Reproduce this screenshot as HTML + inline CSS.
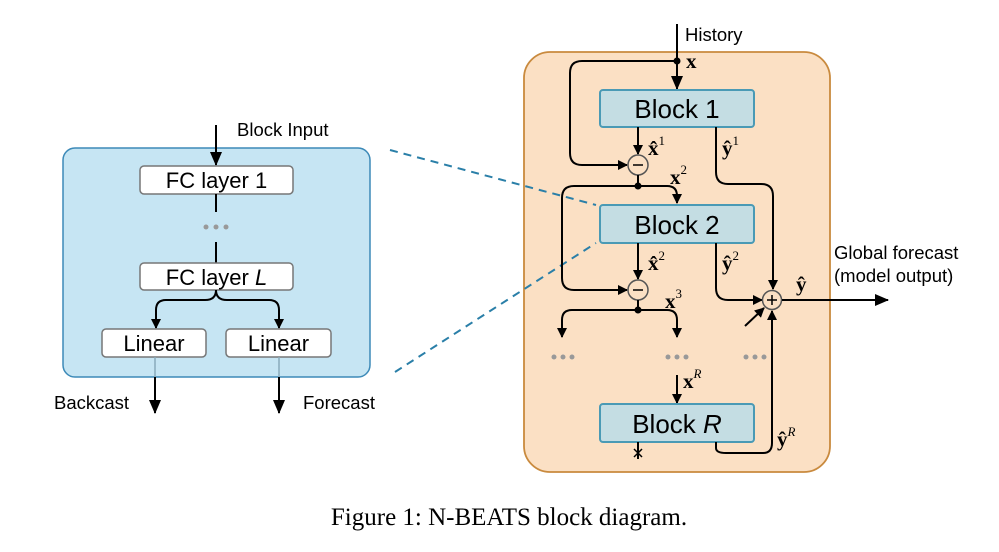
<!DOCTYPE html>
<html><head><meta charset="utf-8"><style>
html,body{margin:0;padding:0;background:#fff;}
svg{display:block;}
.s{font-family:"Liberation Sans",sans-serif;}
.m{font-family:"Liberation Serif",serif;font-weight:bold;}
</style></head><body>
<svg width="999" height="552" viewBox="0 0 999 552" xmlns="http://www.w3.org/2000/svg">
<defs>
<marker id="a" markerWidth="10" markerHeight="10" refX="9" refY="5" orient="auto" markerUnits="userSpaceOnUse">
<path d="M0,0 L10,5 L0,10 z" fill="#000"/></marker>
<marker id="b" markerWidth="14" markerHeight="12" refX="13" refY="6" orient="auto" markerUnits="userSpaceOnUse">
<path d="M0,0 L14,6 L0,12 z" fill="#000"/></marker>
</defs>
<!-- left box -->
<rect x="63" y="148" width="307" height="229" rx="12" fill="#c6e5f3" stroke="#3d8ab8" stroke-width="1.5"/>
<line x1="216" y1="125" x2="216" y2="165" stroke="#000" stroke-width="2" marker-end="url(#b)"/>
<text x="237" y="136" class="s" font-size="18.5">Block Input</text>
<rect x="140" y="166" width="153" height="28" rx="4" fill="#fff" stroke="#777" stroke-width="1.5"/>
<text x="216.5" y="188" class="s" font-size="22" text-anchor="middle">FC layer 1</text>
<line x1="216" y1="194" x2="216" y2="212" stroke="#000" stroke-width="2"/>
<circle cx="206" cy="227" r="2.5" fill="#999"/><circle cx="216" cy="227" r="2.5" fill="#999"/><circle cx="226" cy="227" r="2.5" fill="#999"/>
<line x1="216" y1="242" x2="216" y2="263" stroke="#000" stroke-width="2"/>
<rect x="140" y="263" width="153" height="27" rx="4" fill="#fff" stroke="#777" stroke-width="1.5"/>
<text x="216.5" y="285" class="s" font-size="22" text-anchor="middle">FC layer <tspan font-style="italic">L</tspan></text>
<path d="M216,290 Q216,300 205,300 L166,300 Q156,300 156,310 L156,328" fill="none" stroke="#000" stroke-width="2" marker-end="url(#a)"/>
<path d="M216,290 Q216,300 227,300 L269,300 Q279,300 279,310 L279,328" fill="none" stroke="#000" stroke-width="2" marker-end="url(#a)"/>
<rect x="102" y="329" width="104" height="28" rx="4" fill="#fff" stroke="#777" stroke-width="1.5"/>
<text x="154" y="351" class="s" font-size="22" text-anchor="middle">Linear</text>
<rect x="226" y="329" width="105" height="28" rx="4" fill="#fff" stroke="#777" stroke-width="1.5"/>
<text x="278.5" y="351" class="s" font-size="22" text-anchor="middle">Linear</text>
<line x1="155" y1="357" x2="155" y2="377" stroke="#8ab" stroke-width="1.5"/>
<line x1="279" y1="357" x2="279" y2="377" stroke="#8ab" stroke-width="1.5"/>
<line x1="155" y1="377" x2="155" y2="413" stroke="#000" stroke-width="2" marker-end="url(#b)"/>
<line x1="279" y1="377" x2="279" y2="413" stroke="#000" stroke-width="2" marker-end="url(#b)"/>
<text x="54" y="409" class="s" font-size="18.5">Backcast</text>
<text x="303" y="409" class="s" font-size="18.5">Forecast</text>
<!-- right box -->
<rect x="524" y="52" width="306" height="420" rx="26" fill="#fbe0c4" stroke="#c98a3e" stroke-width="1.8"/>
<!-- dashed -->
<line x1="390" y1="150" x2="596" y2="205" stroke="#2a7fa8" stroke-width="2" stroke-dasharray="8,6"/>
<line x1="395" y1="372" x2="596" y2="243" stroke="#2a7fa8" stroke-width="2" stroke-dasharray="8,6"/>
<text x="685" y="41" class="s" font-size="18.5">History</text>
<line x1="677" y1="24" x2="677" y2="89" stroke="#000" stroke-width="2" marker-end="url(#b)"/>
<circle cx="677" cy="61" r="3.5" fill="#000"/>
<text x="686" y="68" class="m" font-size="21">x</text>
<path d="M677,61 L582,61 Q570,61 570,73 L570,153 Q570,165 582,165 L627,165" fill="none" stroke="#000" stroke-width="2" marker-end="url(#a)"/>
<rect x="600" y="90" width="154" height="37" rx="3" fill="#c4dde3" stroke="#4a9ab5" stroke-width="2"/>
<text x="677" y="118" class="s" font-size="26" text-anchor="middle">Block 1</text>
<line x1="638" y1="127" x2="638" y2="154" stroke="#000" stroke-width="2" marker-end="url(#a)"/>
<text x="648" y="155" class="m" font-size="21">x̂<tspan font-size="13" dy="-10" font-weight="normal">1</tspan></text>
<text x="722" y="155" class="m" font-size="21">ŷ<tspan font-size="13" dy="-10" font-weight="normal">1</tspan></text>
<circle cx="638" cy="165" r="10" fill="#fbe0c4" stroke="#555" stroke-width="1.5"/>
<line x1="633" y1="165" x2="643" y2="165" stroke="#000" stroke-width="1.5"/>
<line x1="638" y1="175" x2="638" y2="186" stroke="#000" stroke-width="2"/>
<circle cx="638" cy="186" r="3.5" fill="#000"/>
<text x="670" y="184" class="m" font-size="21">x<tspan font-size="13" dy="-10" font-weight="normal">2</tspan></text>
<path d="M638,186 L667,186 Q677,186 677,196 L677,203" fill="none" stroke="#000" stroke-width="2" marker-end="url(#a)"/>
<path d="M638,186 L574,186 Q562,186 562,198 L562,278 Q562,290 574,290 L627,290" fill="none" stroke="#000" stroke-width="2" marker-end="url(#a)"/>
<path d="M716,127 L716,172 Q716,184 728,184 L761,184 Q773,184 773,196 L773,289" fill="none" stroke="#000" stroke-width="2" marker-end="url(#a)"/>
<rect x="600" y="205" width="154" height="38" rx="3" fill="#c4dde3" stroke="#4a9ab5" stroke-width="2"/>
<text x="677" y="234" class="s" font-size="26" text-anchor="middle">Block 2</text>
<line x1="638" y1="243" x2="638" y2="279" stroke="#000" stroke-width="2" marker-end="url(#a)"/>
<text x="648" y="270" class="m" font-size="21">x̂<tspan font-size="13" dy="-10" font-weight="normal">2</tspan></text>
<text x="722" y="270" class="m" font-size="21">ŷ<tspan font-size="13" dy="-10" font-weight="normal">2</tspan></text>
<path d="M716,243 L716,288 Q716,300 728,300 L762,300" fill="none" stroke="#000" stroke-width="2" marker-end="url(#a)"/>
<circle cx="638" cy="290" r="10" fill="#fbe0c4" stroke="#555" stroke-width="1.5"/>
<line x1="633" y1="290" x2="643" y2="290" stroke="#000" stroke-width="1.5"/>
<line x1="638" y1="300" x2="638" y2="310" stroke="#000" stroke-width="2"/>
<circle cx="638" cy="310" r="3.5" fill="#000"/>
<text x="665" y="308" class="m" font-size="21">x<tspan font-size="13" dy="-10" font-weight="normal">3</tspan></text>
<path d="M638,310 L572,310 Q562,310 562,320 L562,337" fill="none" stroke="#000" stroke-width="2" marker-end="url(#a)"/>
<path d="M638,310 L667,310 Q677,310 677,320 L677,337" fill="none" stroke="#000" stroke-width="2" marker-end="url(#a)"/>
<circle cx="772" cy="300" r="9.5" fill="#fbe0c4" stroke="#555" stroke-width="1.5"/>
<line x1="767" y1="300" x2="777" y2="300" stroke="#000" stroke-width="1.5"/>
<line x1="772" y1="295" x2="772" y2="305" stroke="#000" stroke-width="1.5"/>
<line x1="782" y1="300" x2="888" y2="300" stroke="#000" stroke-width="2" marker-end="url(#b)"/>
<text x="796" y="291" class="m" font-size="21">ŷ</text>
<text x="834" y="259" class="s" font-size="18.5">Global forecast</text>
<text x="834" y="282" class="s" font-size="18.5">(model output)</text>
<line x1="745" y1="326" x2="764" y2="308" stroke="#000" stroke-width="2" marker-end="url(#a)"/>
<circle cx="554" cy="357" r="2.5" fill="#999"/><circle cx="563" cy="357" r="2.5" fill="#999"/><circle cx="572" cy="357" r="2.5" fill="#999"/>
<circle cx="668" cy="357" r="2.5" fill="#999"/><circle cx="677" cy="357" r="2.5" fill="#999"/><circle cx="686" cy="357" r="2.5" fill="#999"/>
<circle cx="746" cy="357" r="2.5" fill="#999"/><circle cx="755" cy="357" r="2.5" fill="#999"/><circle cx="764" cy="357" r="2.5" fill="#999"/>
<line x1="677" y1="375" x2="677" y2="403" stroke="#000" stroke-width="2" marker-end="url(#a)"/>
<text x="683" y="388" class="m" font-size="21">x<tspan font-size="13" dy="-10" font-weight="normal" font-style="italic">R</tspan></text>
<rect x="600" y="404" width="154" height="38" rx="3" fill="#c4dde3" stroke="#4a9ab5" stroke-width="2"/>
<text x="677" y="433" class="s" font-size="26" text-anchor="middle">Block <tspan font-style="italic">R</tspan></text>
<line x1="638" y1="442" x2="638" y2="459" stroke="#000" stroke-width="2"/>
<path d="M634,449 L642,457 M642,449 L634,457" stroke="#000" stroke-width="1.5"/>
<path d="M716,442 L716,448 Q716,453 726,453 L763,453 Q772,453 772,443 L772,311" fill="none" stroke="#000" stroke-width="2" marker-end="url(#a)"/>
<text x="777" y="446" class="m" font-size="21">ŷ<tspan font-size="13" dy="-10" font-weight="normal" font-style="italic">R</tspan></text>
<text x="509" y="525" font-family="Liberation Serif,serif" font-size="25" text-anchor="middle">Figure 1: N-BEATS block diagram.</text>
</svg>
</body></html>
